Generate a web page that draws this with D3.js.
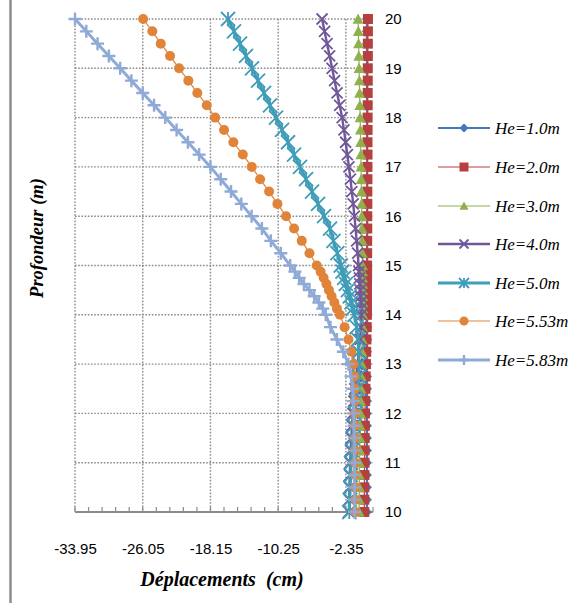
<!DOCTYPE html>
<html><head><meta charset="utf-8">
<script src="https://cdn.jsdelivr.net/npm/d3@7"></script>
<style>
html,body{margin:0;padding:0;background:#fff;}
svg{display:block;}
</style></head>
<body>
<svg id="chart" width="577" height="603"></svg>
<script>
// ---------- DATA ----------
const depths = [20,19.75,19.5,19.25,19,18.75,18.5,18.25,18,17.75,17.5,17.25,17,16.75,16.5,16.25,16,15.75,15.5,15.25,15,14.875,14.75,14.625,14.5,14.375,14.25,14.125,14,13.75,13.5,13.25,13,12.75,12.5,12.25,12,11.75,11.5,11.25,11,10.75,10.5,10.25,10];

const seriesNames = ["He=1.0m","He=2.0m","He=3.0m","He=4.0m","He=5.0m","He=5.53m","He=5.83m"];

const he10 = [0.10,0.10,0.10,0.11,0.11,0.11,0.11,0.12,0.12,0.12,0.12,0.12,0.13,0.13,0.13,0.13,0.13,0.13,0.13,0.13,0.13,0.13,0.13,0.13,0.13,0.13,0.13,0.13,0.13,0.13,0.13,0.12,0.12,0.12,0.12,0.11,0.11,0.11,0.11,0.10,0.10,0.10,0.10,0.10,0.10];
const he20 = [0.22,0.22,0.21,0.21,0.20,0.20,0.19,0.19,0.18,0.18,0.17,0.17,0.16,0.16,0.15,0.15,0.14,0.14,0.13,0.13,0.12,0.12,0.12,0.11,0.11,0.11,0.10,0.10,0.10,0.08,0.05,0.02,-0.01,-0.04,-0.07,-0.10,-0.12,-0.14,-0.16,-0.17,-0.18,-0.19,-0.20,-0.20,-0.21];
const he30 = [-0.93,-0.90,-0.87,-0.84,-0.81,-0.78,-0.75,-0.72,-0.69,-0.66,-0.63,-0.60,-0.58,-0.56,-0.54,-0.52,-0.50,-0.48,-0.46,-0.44,-0.42,-0.41,-0.40,-0.40,-0.39,-0.39,-0.38,-0.38,-0.38,-0.40,-0.44,-0.48,-0.52,-0.56,-0.60,-0.63,-0.66,-0.69,-0.72,-0.74,-0.76,-0.78,-0.79,-0.80,-0.81];
const he40 = [-5.13,-4.84,-4.55,-4.25,-3.96,-3.67,-3.38,-3.08,-2.79,-2.58,-2.38,-2.18,-2.00,-1.82,-1.66,-1.50,-1.36,-1.22,-1.10,-0.98,-0.87,-0.82,-0.77,-0.72,-0.68,-0.64,-0.60,-0.58,-0.56,-0.60,-0.70,-0.85,-1.00,-1.15,-1.30,-1.42,-1.54,-1.64,-1.72,-1.80,-1.86,-1.90,-1.94,-1.97,-2.00];
const he50 = [-16.10,-15.40,-14.70,-14.00,-13.30,-12.60,-11.90,-11.20,-10.50,-9.80,-9.10,-8.40,-7.70,-7.00,-6.30,-5.60,-4.90,-4.20,-3.80,-3.35,-2.95,-2.75,-2.55,-2.35,-2.12,-1.90,-1.70,-1.55,-1.35,-1.10,-0.95,-0.85,-0.80,-0.85,-1.00,-1.15,-1.30,-1.45,-1.55,-1.65,-1.75,-1.80,-1.85,-1.90,-1.95];
const he553 = [-26.00,-24.93,-23.95,-22.86,-21.81,-20.73,-19.68,-18.58,-17.60,-16.56,-15.48,-14.38,-13.33,-12.36,-11.31,-10.34,-9.33,-8.40,-7.50,-6.60,-5.75,-5.30,-4.95,-4.62,-4.33,-4.02,-3.70,-3.40,-3.05,-2.50,-2.05,-1.72,-1.45,-1.35,-1.32,-1.30,-1.29,-1.28,-1.27,-1.27,-1.26,-1.26,-1.25,-1.25,-1.25];
const he583 = [-33.95,-32.63,-31.32,-30.00,-28.68,-27.37,-26.05,-24.73,-23.42,-22.10,-20.78,-19.47,-18.15,-16.95,-15.75,-14.55,-13.35,-12.15,-11.10,-9.95,-8.85,-8.30,-7.80,-7.25,-6.60,-6.05,-5.50,-5.05,-4.70,-4.15,-3.40,-2.65,-2.05,-1.75,-1.55,-1.47,-1.43,-1.40,-1.38,-1.37,-1.36,-1.35,-1.35,-1.34,-1.34];

const xTickValues = [-33.95,-26.05,-18.15,-10.25,-2.35];
const xTickLabels = ["-33.95","-26.05","-18.15","-10.25","-2.35"];
const yTickValues = [10,11,12,13,14,15,16,17,18,19,20];

// ---------- STYLE ----------
const styles = [
  {color:"#4677BF", width:2.2, marker:"diamond", size:5},
  {color:"#B5403E", width:1.2, marker:"square",  size:5},
  {color:"#8FB04B", width:1.2, marker:"triangle",size:5.5},
  {color:"#71579A", width:2.4, marker:"x",       size:5.5},
  {color:"#3F9DB8", width:3,   marker:"star",    size:7},
  {color:"#E08439", width:1.2, marker:"circle",  size:5},
  {color:"#8FAAD6", width:3,   marker:"plus",    size:6.5}
];
const seriesValues = [he10,he20,he30,he40,he50,he553,he583];

const svg = d3.select("#chart");
const x = d3.scaleLinear().domain([-33.95, 0.81]).range([75, 373]);
const y = d3.scaleLinear().domain([10, 20]).range([512, 19]);

// left frame line
svg.append("line").attr("x1",10.5).attr("x2",10.5).attr("y1",0).attr("y2",603)
  .attr("stroke","#8c8c8c").attr("stroke-width",2.5);

// gridlines
const grid = svg.append("g");
grid.selectAll("line.h").data(yTickValues.filter(d=>d>10)).join("line")
  .attr("x1",x(-33.95)).attr("x2",x(0.81))
  .attr("y1",d=>y(d)).attr("y2",d=>y(d))
  .attr("stroke","#8a8a8a").attr("stroke-width",1.4).attr("stroke-dasharray","1.6,1.6");
grid.selectAll("line.v").data(xTickValues).join("line")
  .attr("x1",d=>x(d)).attr("x2",d=>x(d))
  .attr("y1",y(20)).attr("y2",y(10))
  .attr("stroke","#8a8a8a").attr("stroke-width",1.4).attr("stroke-dasharray","1.6,1.6");

// x axis
const minorStep = 7.9/5;
const minorTicks = d3.range(0,23).map(i=>-33.95+i*minorStep);
const xAxisG = svg.append("g").attr("transform",`translate(0,${y(10)})`);
xAxisG.append("line").attr("x1",x(-33.95)).attr("x2",x(0.81)).attr("y1",0).attr("y2",0)
  .attr("stroke","#8c8c8c").attr("stroke-width",2);
xAxisG.selectAll("line.minor").data(minorTicks).join("line")
  .attr("x1",d=>x(d)).attr("x2",d=>x(d)).attr("y1",0).attr("y2",-5)
  .attr("stroke","#8c8c8c").attr("stroke-width",1.2);
const xAxis = d3.axisBottom(x).tickValues(xTickValues).tickFormat((d,i)=>xTickLabels[i])
  .tickSize(0).tickPadding(31);
xAxisG.append("g").call(xAxis).call(g=>g.select(".domain").remove())
  .selectAll("text").attr("font-family","Liberation Sans, Arial, sans-serif").attr("font-size",15).attr("fill","#000");

// y axis labels on right
const yAxis = d3.axisRight(y).tickValues(yTickValues).tickFormat(d3.format("d")).tickSize(0).tickPadding(12);
svg.append("g").attr("transform",`translate(${x(0.81)},0)`).call(yAxis)
  .call(g=>g.select(".domain").remove())
  .selectAll("text").attr("font-family","Liberation Sans, Arial, sans-serif").attr("font-size",15).attr("fill","#000");

// markers
function markerPath(type, s){
  switch(type){
    case "diamond": return `M0,${-s}L${s},0L0,${s}L${-s},0Z`;
    case "square": return `M${-s},${-s}H${s}V${s}H${-s}Z`;
    case "triangle": return `M0,${-s}L${s},${s*0.85}L${-s},${s*0.85}Z`;
    case "x": return `M${-s},${-s}L${s},${s}M${-s},${s}L${s},${-s}`;
    case "star": return `M${-s},${-s}L${s},${s}M${-s},${s}L${s},${-s}M0,${-s}L0,${s}`;
    case "plus": return `M${-s},0H${s}M0,${-s}V${s}`;
  }
}
function drawMarker(g, st, cx, cy, s){
  if(st.marker==="circle"){
    g.append("circle").attr("cx",cx).attr("cy",cy).attr("r",s).attr("fill",st.color);
  } else if(["x","star","plus"].includes(st.marker)){
    g.append("path").attr("d",markerPath(st.marker,s)).attr("transform",`translate(${cx},${cy})`)
      .attr("fill","none").attr("stroke",st.color).attr("stroke-width",st.marker==="plus"?2.4:1.8);
  } else {
    g.append("path").attr("d",markerPath(st.marker,s)).attr("transform",`translate(${cx},${cy})`)
      .attr("fill",st.color);
  }
}

const line = d3.line().x(d=>x(d.v)).y(d=>y(d.d));
const plot = svg.append("g");
seriesValues.forEach((vals,i)=>{
  const st = styles[i];
  const pts = vals.map((v,k)=>({v, d:depths[k]}));
  const g = plot.append("g");
  g.append("path").datum(pts).attr("d",line).attr("fill","none")
    .attr("stroke",st.color).attr("stroke-width",st.width);
  pts.forEach(p=>drawMarker(g, st, x(p.v), y(p.d), st.size));
});

// legend
const legendY = [128,167,206,244,283,321,360];
const leg = svg.append("g");
seriesNames.forEach((name,i)=>{
  const st = styles[i];
  const ly = legendY[i];
  leg.append("line").attr("x1",438).attr("x2",490).attr("y1",ly).attr("y2",ly)
    .attr("stroke",st.color).attr("stroke-width",st.width);
  drawMarker(leg, st, 464, ly, st.marker==="star"||st.marker==="plus"?5:4.5);
  leg.append("text").attr("x",495).attr("y",ly+5.5).text(name)
    .attr("font-family","Liberation Serif, Times New Roman, serif").attr("font-style","italic")
    .attr("font-size",17).attr("fill","#000");
});

// axis titles
svg.append("text").attr("x",222).attr("y",586).attr("text-anchor","middle")
  .attr("font-family","Liberation Serif, Times New Roman, serif").attr("font-style","italic").attr("font-weight","bold")
  .attr("font-size",20).style("white-space","pre").text("Déplacements  (cm)");
svg.append("text").attr("transform","translate(43,238) rotate(-90)").attr("text-anchor","middle")
  .attr("font-family","Liberation Serif, Times New Roman, serif").attr("font-style","italic").attr("font-weight","bold")
  .attr("font-size",18.5).text("Profondeur (m)");
</script>
</body></html>
